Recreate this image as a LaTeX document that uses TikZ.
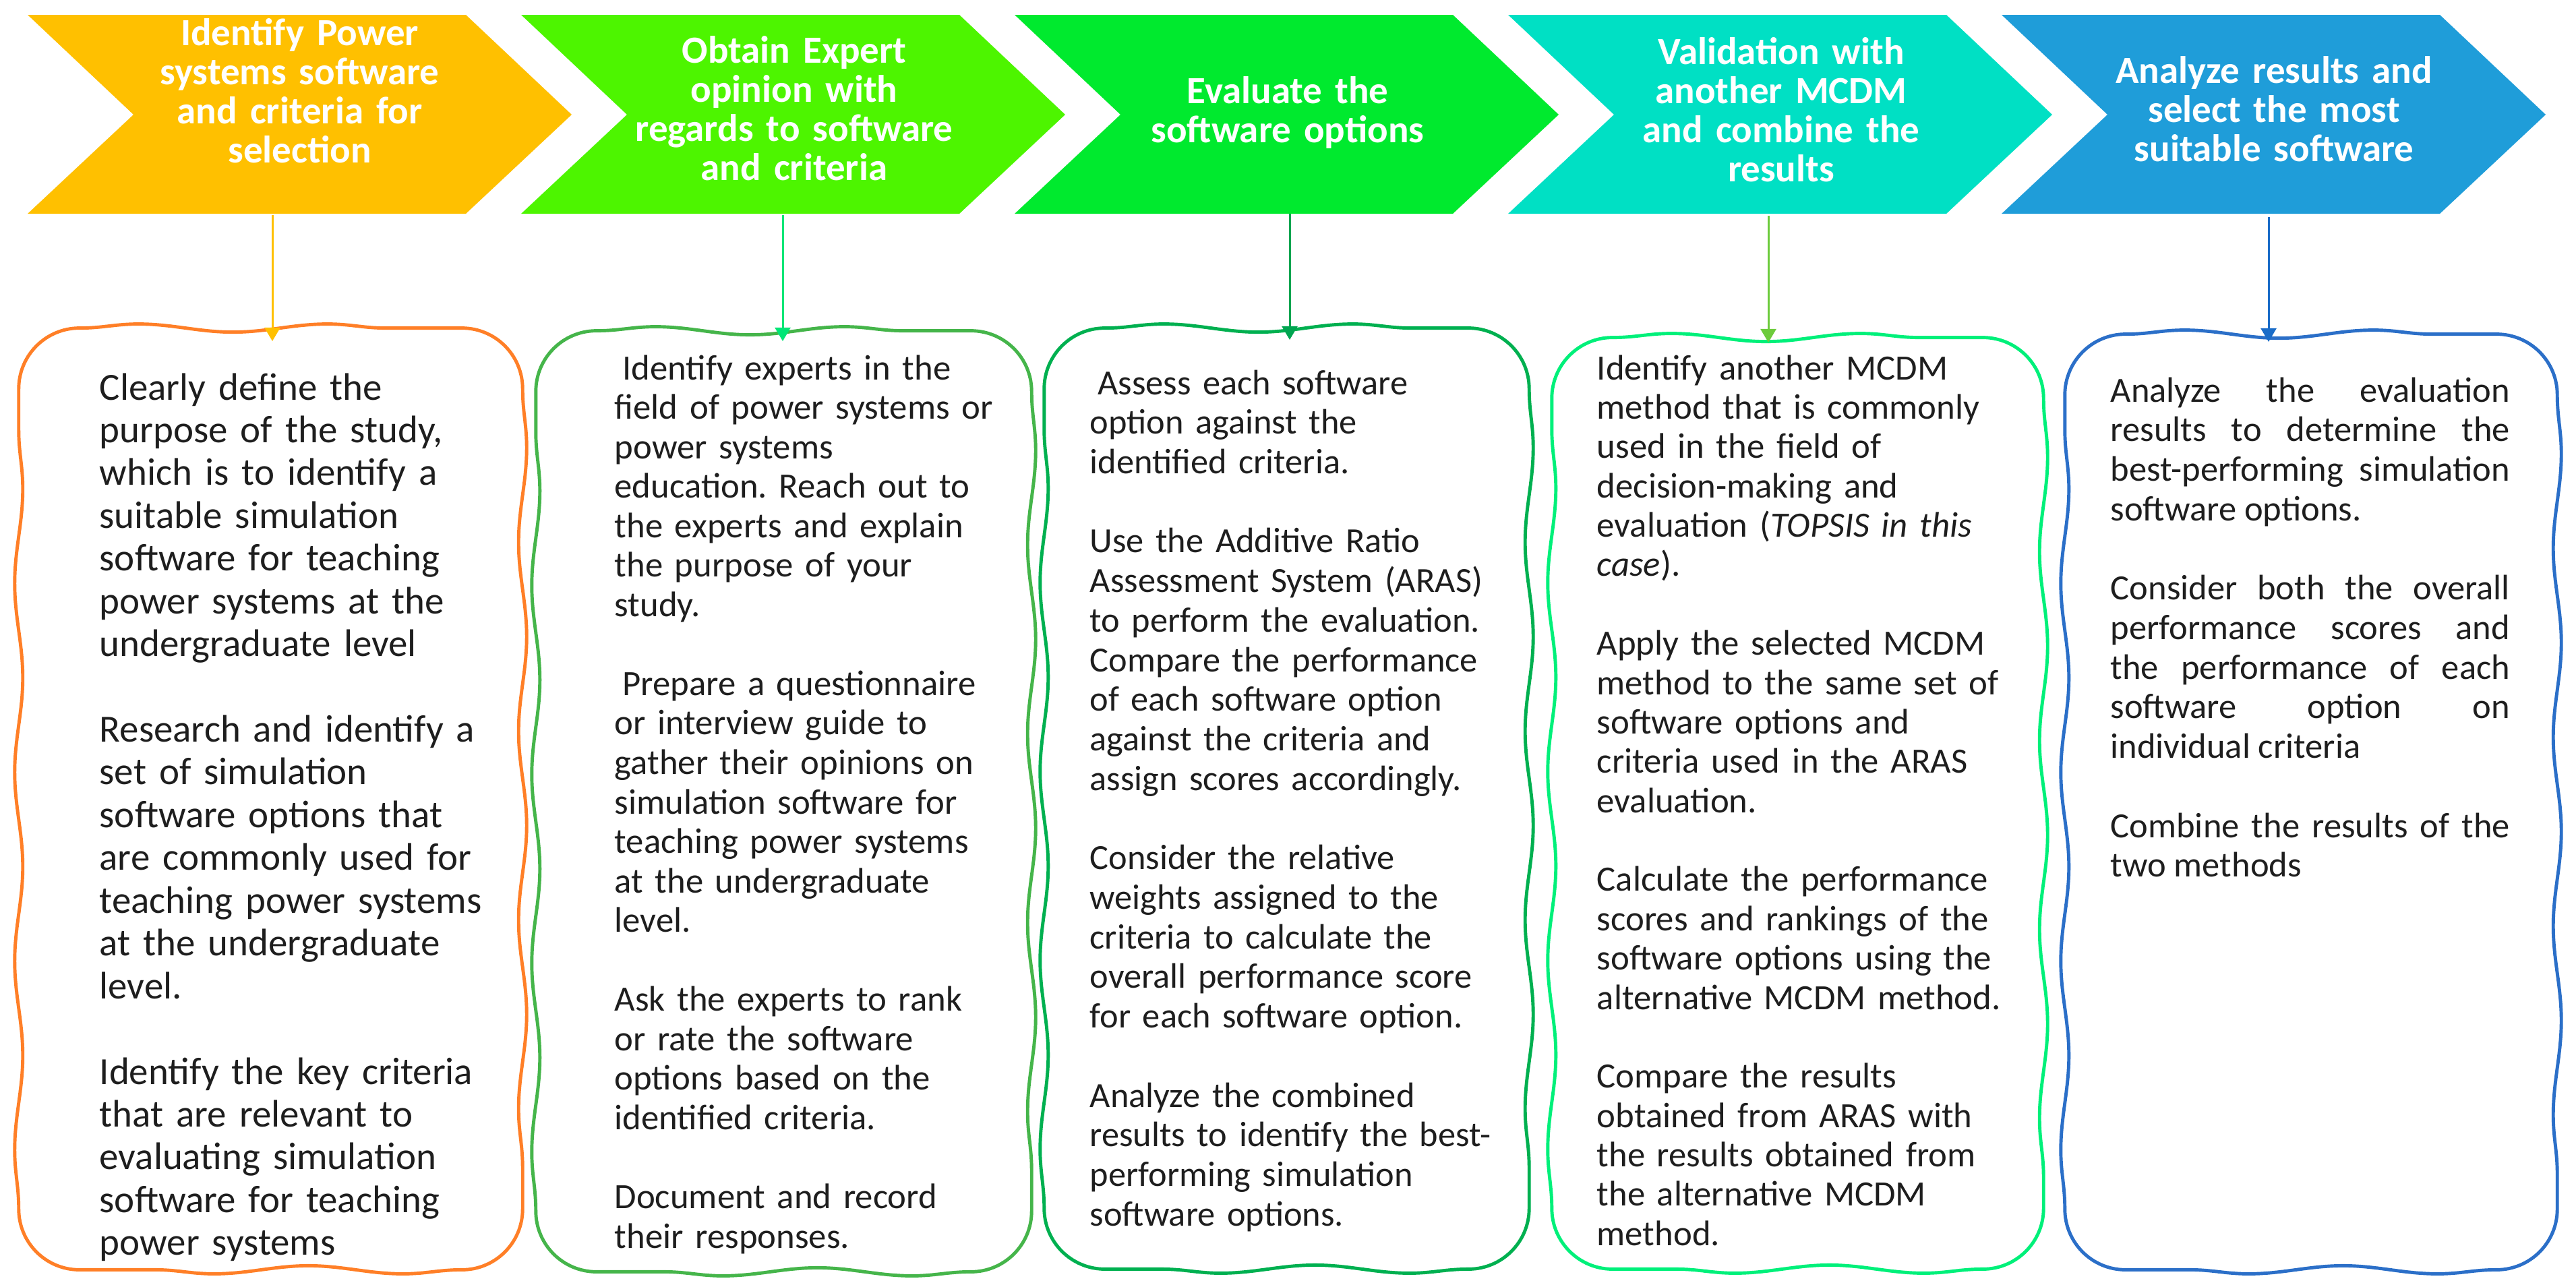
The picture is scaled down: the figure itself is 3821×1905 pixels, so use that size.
\documentclass[tikz,border=0pt]{standalone}
\usepackage{fontspec}
\setmainfont{Carlito}
\frenchspacing
\usetikzlibrary{decorations.pathmorphing,arrows.meta}
\definecolor{chA}{HTML}{FFC000}
\definecolor{chB}{HTML}{4DF500}
\definecolor{chC}{HTML}{00EA2E}
\definecolor{chD}{HTML}{00E0C4}
\definecolor{chE}{HTML}{1F9DD9}
\definecolor{lnA}{HTML}{FFC000}
\definecolor{lnB}{HTML}{00E676}
\definecolor{lnC}{HTML}{00A550}
\definecolor{lnD}{HTML}{6DCB3C}
\definecolor{lnE}{HTML}{1A6CC8}
\definecolor{bxA}{HTML}{FF7F27}
\definecolor{bxB}{HTML}{45B54A}
\definecolor{bxC}{HTML}{00B050}
\definecolor{bxD}{HTML}{00F07A}
\definecolor{bxE}{HTML}{2B6FC8}
\definecolor{bodyink}{HTML}{1E1E1E}
\tikzset{
  chevfill/.style={fill=#1, draw=none},
  chevtext/.style={text=white, font=\bfseries\fontsize{16.2pt}{16.5pt}\selectfont,
    text width=7cm, align=center, anchor=base, inner sep=0pt},
  boxframe/.style={draw=#1, line width=1.4pt, line join=round, line cap=round,
    decoration={snake, amplitude=0.06cm, segment length=2.8cm}},
  boxarea/.style={inner sep=0pt, outer sep=0pt, draw=none},
  conn/.style={draw=#1, fill=#1, line width=0.85pt, -{Triangle[width=6.5pt,length=5.7pt]}},
  bodytext/.style={text=bodyink, anchor=base west, inner sep=0pt, align=left, text width=7cm},
}
\newcommand\wavyframe[2]{%
  \draw[boxframe=#1]
    decorate { ([xshift=0.9cm]#2.north west) -- ([xshift=-0.9cm]#2.north east) }
    .. controls ([xshift=-0.403cm]#2.north east) and ([yshift=-0.403cm]#2.north east) .. ([yshift=-0.9cm]#2.north east)
    decorate { ([yshift=-0.9cm]#2.north east) -- ([yshift=0.9cm]#2.south east) }
    .. controls ([yshift=0.403cm]#2.south east) and ([xshift=-0.403cm]#2.south east) .. ([xshift=-0.9cm]#2.south east)
    decorate { ([xshift=-0.9cm]#2.south east) -- ([xshift=0.9cm]#2.south west) }
    .. controls ([xshift=0.403cm]#2.south west) and ([yshift=0.403cm]#2.south west) .. ([yshift=0.9cm]#2.south west)
    decorate { ([yshift=0.9cm]#2.south west) -- ([yshift=-0.9cm]#2.north west) }
    .. controls ([yshift=-0.403cm]#2.north west) and ([xshift=0.403cm]#2.north west) .. ([xshift=0.9cm]#2.north west);}
\begin{document}
\begin{tikzpicture}[x=0.01cm, y=-0.01cm]
\useasboundingbox (0,0) rectangle (3821,1905);
\fill[white] (0,0) rectangle (3821,1905);

% chevrons
\fill[chevfill=chA] (41,22) -- (691,22) -- (848,170) -- (691,317) -- (41,317) -- (198,170) -- cycle;
\fill[chevfill=chB] (773,22) -- (1423,22) -- (1580,170) -- (1423,317) -- (773,317) -- (930,170) -- cycle;
\fill[chevfill=chC] (1505,22) -- (2155,22) -- (2312,170) -- (2155,317) -- (1505,317) -- (1662,170) -- cycle;
\fill[chevfill=chD] (2237,22) -- (2887,22) -- (3044,170) -- (2887,317) -- (2237,317) -- (2394,170) -- cycle;
\fill[chevfill=chE] (2969,22) -- (3619,22) -- (3776,170) -- (3619,317) -- (2969,317) -- (3126,170) -- cycle;

\node[chevtext] (h1) at (444.5,67) {Identify Power\\systems software\\and criteria for\\selection};
\node[chevtext] (h2) at (1178,93) {Obtain Expert\\opinion with\\regards to software\\and criteria};
\node[chevtext] (h3) at (1910,153) {Evaluate the\\software options};
\node[chevtext] (h4) at (2642,95) {Validation with\\another MCDM\\and combine the\\results};
\node[chevtext] (h5) at (3373,123) {Analyze results and\\select the most\\suitable software};

% boxes
\node[boxarea, minimum width=7.47cm, minimum height=13.96cm] (b1) at (401.5,1185) {};
\node[boxarea, minimum width=7.35cm, minimum height=13.95cm] (b2) at (1162.5,1188.5) {};
\node[boxarea, minimum width=7.19cm, minimum height=13.95cm] (b3) at (1908.5,1184.5) {};
\node[boxarea, minimum width=7.29cm, minimum height=13.81cm] (b4) at (2666.5,1191.5) {};
\node[boxarea, minimum width=7.30cm, minimum height=13.87cm] (b5) at (3428,1189.5) {};
\wavyframe{bxA}{b1}
\wavyframe{bxB}{b2}
\wavyframe{bxC}{b3}
\wavyframe{bxD}{b4}
\wavyframe{bxE}{b5}

% connectors
\coordinate (s1) at (404,319);  \coordinate (e1) at (404,506);
\coordinate (s2) at (1161,319); \coordinate (e2) at (1161,506);
\coordinate (s3) at (1913,317); \coordinate (e3) at (1913,504);
\coordinate (s4) at (2623,320); \coordinate (e4) at (2623,508);
\coordinate (s5) at (3365,322); \coordinate (e5) at (3365,507);
\draw[conn=lnA] (s1) -- (e1);
\draw[conn=lnB] (s2) -- (e2);
\draw[conn=lnC] (s3) -- (e3);
\draw[conn=lnD] (s4) -- (e4);
\draw[conn=lnE] (s5) -- (e5);

% texts
\node[bodytext, font=\fontsize{16.2pt}{18.04pt}\selectfont] (t1) at (147,593) {Clearly define the\\
purpose of the study,\\
which is to identify a\\
suitable simulation\\
software for teaching\\
power systems at the\\
undergraduate level\\[\baselineskip]
Research and identify a\\
set of simulation\\
software options that\\
are commonly used for\\
teaching power systems\\
at the undergraduate\\
level.\\[\baselineskip]
Identify the key criteria\\
that are relevant to\\
evaluating simulation\\
software for teaching\\
power systems};

\node[bodytext, font=\fontsize{15pt}{16.65pt}\selectfont] (t2) at (911,563) {\hspace*{0.22em}Identify experts in the\\
field of power systems or\\
power systems\\
education. Reach out to\\
the experts and explain\\
the purpose of your\\
study.\\[\baselineskip]
\hspace*{0.22em}Prepare a questionnaire\\
or interview guide to\\
gather their opinions on\\
simulation software for\\
teaching power systems\\
at the undergraduate\\
level.\\[\baselineskip]
Ask the experts to rank\\
or rate the software\\
options based on the\\
identified criteria.\\[\baselineskip]
Document and record\\
their responses.};

\node[bodytext, font=\fontsize{14.9pt}{16.7pt}\selectfont] (t3) at (1616,585) {\hspace*{0.22em}Assess each software\\
option against the\\
identified criteria.\\[\baselineskip]
Use the Additive Ratio\\
Assessment System (ARAS)\\
to perform the evaluation.\\
Compare the performance\\
of each software option\\
against the criteria and\\
assign scores accordingly.\\[\baselineskip]
Consider the relative\\
weights assigned to the\\
criteria to calculate the\\
overall performance score\\
for each software option.\\[\baselineskip]
Analyze the combined\\
results to identify the best-\\
performing simulation\\
software options.};

\node[bodytext, font=\fontsize{15pt}{16.6pt}\selectfont] (t4) at (2368,563) {Identify another MCDM\\
method that is commonly\\
used in the field of\\
decision-making and\\
evaluation (\textit{TOPSIS in this}\\
\textit{case}).\\[\baselineskip]
Apply the selected MCDM\\
method to the same set of\\
software options and\\
criteria used in the ARAS\\
evaluation.\\[\baselineskip]
Calculate the performance\\
scores and rankings of the\\
software options using the\\
alternative MCDM method.\\[\baselineskip]
Compare the results\\
obtained from ARAS with\\
the results obtained from\\
the alternative MCDM\\
method.};

\node[bodytext, align=justify, text width=5.92cm,
  font=\fontsize{14.94pt}{16.7pt}\selectfont] (t5) at (3130,596) {\tolerance=10000\relax
\hyphenpenalty=10000\relax \exhyphenpenalty=10000\relax
Analyze the evaluation \linebreak
results to determine the \linebreak
best-performing simulation \linebreak
software options.\\[\baselineskip]
Consider both the overall \linebreak
performance scores and \linebreak
the performance of each \linebreak
software option on \linebreak
individual criteria\\[\baselineskip]
Combine the results of the \linebreak
two methods};
\end{tikzpicture}
\end{document}
